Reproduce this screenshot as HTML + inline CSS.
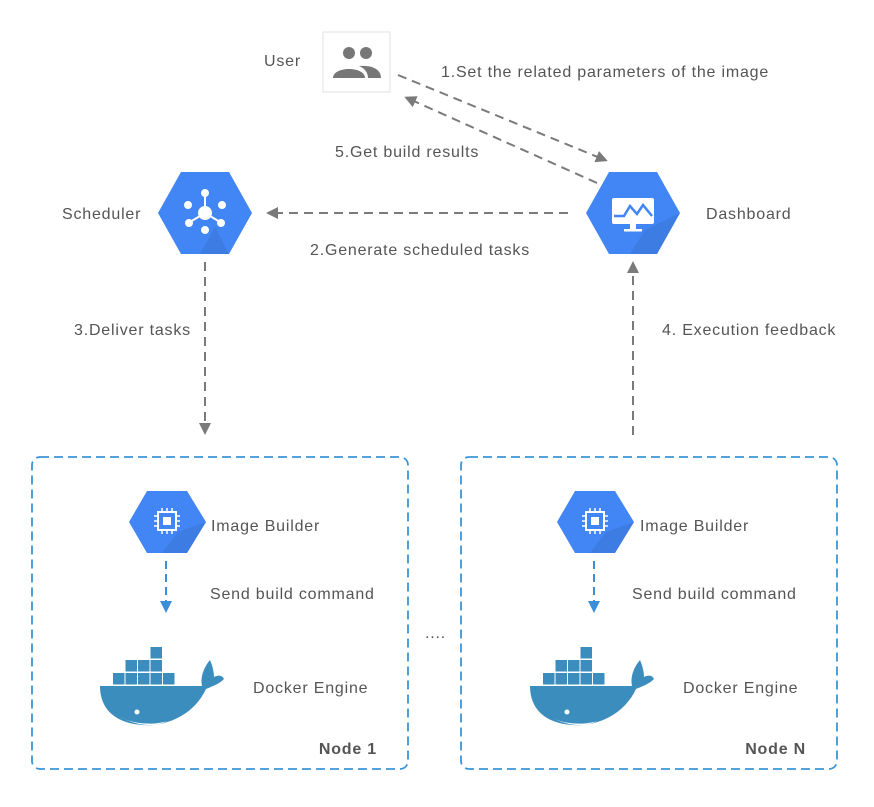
<!DOCTYPE html>
<html><head><meta charset="utf-8"><style>
html,body{margin:0;padding:0;background:#fff;}
svg text{font-family:"Liberation Sans",sans-serif;fill:#555;font-size:16px;letter-spacing:0.8px;}
</style></head><body>
<svg width="874" height="802" viewBox="0 0 874 802" xmlns="http://www.w3.org/2000/svg">
<defs>
<marker id="ag" markerWidth="12" markerHeight="12" refX="9" refY="6" orient="auto" markerUnits="userSpaceOnUse"><path d="M0,0 L12,6 L0,12 Z" fill="#7a7a7a"/></marker>
<marker id="ab" markerWidth="12" markerHeight="12" refX="9" refY="6" orient="auto" markerUnits="userSpaceOnUse"><path d="M0,0 L12,6 L0,12 Z" fill="#3a8fd8"/></marker>
<g id="whale">
<rect x="13" y="26" width="11.5" height="11.5" fill="#3b8dbd"/><rect x="25.5" y="26" width="11.5" height="11.5" fill="#3b8dbd"/><rect x="38" y="26" width="11.5" height="11.5" fill="#3b8dbd"/><rect x="50.5" y="26" width="11.5" height="11.5" fill="#3b8dbd"/><rect x="63" y="26" width="11.5" height="11.5" fill="#3b8dbd"/>
<rect x="25.5" y="13" width="11.5" height="11.5" fill="#3b8dbd"/><rect x="38" y="13" width="11.5" height="11.5" fill="#3b8dbd"/><rect x="50.5" y="13" width="11.5" height="11.5" fill="#3b8dbd"/>
<rect x="50.5" y="0" width="11.5" height="11.5" fill="#3b8dbd"/>
<path d="M0,39 L102,39 C100,30 104,20 110,13 C113,20 114,26 114,30 C118,28 122,28 124,32 C118,38 110,40 106,42 C94,68 66,80 42,78 C15,76 0,62 0,39 Z" fill="#3b8dbd"/>
<circle cx="37" cy="65" r="2.5" fill="#fff"/>
<path d="M20,70 C35,78 55,78 68,74 C55,80 40,80 20,70 Z" fill="#fff"/>
</g>
</defs>

<text x="264" y="66">User</text>
<rect x="323" y="32" width="67" height="60" fill="#fff" stroke="#e2e2e2"/>
<g fill="#777">
<circle cx="349" cy="53" r="6"/><circle cx="366" cy="53" r="6"/>
<path d="M333,78 C333,66 365,66 365,78 Z"/>
<path d="M359,66 C372,65 381,69 381,78 L368,78 C368,72 364,68 359,66 Z"/>
</g>

<text x="441" y="77">1.Set the related parameters of the image</text>
<text x="335" y="157">5.Get build results</text>
<line x1="398" y1="75" x2="605" y2="160" stroke="#7a7a7a" stroke-width="2" stroke-dasharray="9,6" marker-end="url(#ag)"/>
<line x1="597" y1="183" x2="407" y2="98" stroke="#7a7a7a" stroke-width="2" stroke-dasharray="9,6" marker-end="url(#ag)"/>

<text x="62" y="219">Scheduler</text>
<polygon points="158,213 181,172 229,172 252,213 229,254 181,254" fill="#4285f4"/>
<polygon points="215,227 229,254 200,254" fill="#3a76d6" opacity="0.6"/>
<g fill="#fff" stroke="#fff" stroke-width="2">
<line x1="205" y1="213" x2="205" y2="195"/><line x1="205" y1="213" x2="190" y2="222"/><line x1="205" y1="213" x2="220" y2="222"/>
<circle cx="205" cy="213" r="6"/><circle cx="205" cy="193" r="3"/><circle cx="189" cy="223" r="3"/><circle cx="221" cy="223" r="3"/><circle cx="205" cy="230" r="3"/><circle cx="188" cy="205" r="3"/><circle cx="222" cy="205" r="3"/>
</g>

<text x="706" y="219">Dashboard</text>
<polygon points="586,213 609,172 657,172 680,213 657,254 609,254" fill="#4285f4"/>
<polygon points="645,230 680,213 657,254 630,254" fill="#3a76d6" opacity="0.6"/>
<rect x="612" y="198" width="42" height="26" rx="2" fill="#fff"/>
<polyline points="614,216 624,216 630,206 637,214 643,205 652,216" fill="none" stroke="#4285f4" stroke-width="2.5"/>
<rect x="630" y="224" width="6" height="5" fill="#fff"/><rect x="624" y="229" width="18" height="2.5" fill="#fff"/>

<line x1="568" y1="213" x2="269" y2="213" stroke="#7a7a7a" stroke-width="2" stroke-dasharray="9,6" marker-end="url(#ag)"/>
<text x="310" y="255">2.Generate scheduled tasks</text>

<line x1="205" y1="262" x2="205" y2="432" stroke="#7a7a7a" stroke-width="2" stroke-dasharray="9,6" marker-end="url(#ag)"/>
<text x="74" y="335">3.Deliver tasks</text>
<line x1="633" y1="435" x2="633" y2="264" stroke="#7a7a7a" stroke-width="2" stroke-dasharray="9,6" marker-end="url(#ag)"/>
<text x="662" y="335">4. Execution feedback</text>

<rect x="32" y="457" width="376" height="312" rx="8" fill="none" stroke="#3a95d8" stroke-width="1.8" stroke-dasharray="9,5"/>
<rect x="461" y="457" width="376" height="312" rx="8" fill="none" stroke="#3a95d8" stroke-width="1.8" stroke-dasharray="9,5"/>

<g id="ib">
<polygon points="129,522 147,491 187,491 206,522 187,553 147,553" fill="#4285f4"/>
<polygon points="178,532 206,522 187,553 162,553" fill="#3a76d6" opacity="0.6"/>
<rect x="158" y="512" width="18" height="18" fill="none" stroke="#fff" stroke-width="2"/>
<rect x="163" y="517" width="8" height="8" fill="#fff"/>
<g stroke="#fff" stroke-width="1.5"><line x1="162" y1="508" x2="162" y2="512"/><line x1="167" y1="508" x2="167" y2="512"/><line x1="172" y1="508" x2="172" y2="512"/><line x1="162" y1="530" x2="162" y2="534"/><line x1="167" y1="530" x2="167" y2="534"/><line x1="172" y1="530" x2="172" y2="534"/><line x1="154" y1="516" x2="158" y2="516"/><line x1="154" y1="521" x2="158" y2="521"/><line x1="154" y1="526" x2="158" y2="526"/><line x1="176" y1="516" x2="180" y2="516"/><line x1="176" y1="521" x2="180" y2="521"/><line x1="176" y1="526" x2="180" y2="526"/></g>
</g>
<use href="#ib" x="428"/>

<text x="211" y="531">Image Builder</text>
<text x="640" y="531">Image Builder</text>
<line x1="166" y1="561" x2="166" y2="610" stroke="#3a8fd8" stroke-width="2" stroke-dasharray="8,5" marker-end="url(#ab)"/>
<line x1="594" y1="561" x2="594" y2="610" stroke="#3a8fd8" stroke-width="2" stroke-dasharray="8,5" marker-end="url(#ab)"/>
<text x="210" y="599">Send build command</text>
<text x="632" y="599">Send build command</text>

<use href="#whale" transform="translate(100,647)"/>
<use href="#whale" transform="translate(530,647)"/>
<text x="253" y="693">Docker Engine</text>
<text x="683" y="693">Docker Engine</text>
<text x="377" y="754" text-anchor="end" style="font-weight:bold">Node 1</text>
<text x="806" y="754" text-anchor="end" style="font-weight:bold">Node N</text>
<text x="425" y="638">....</text>
</svg>
</body></html>
